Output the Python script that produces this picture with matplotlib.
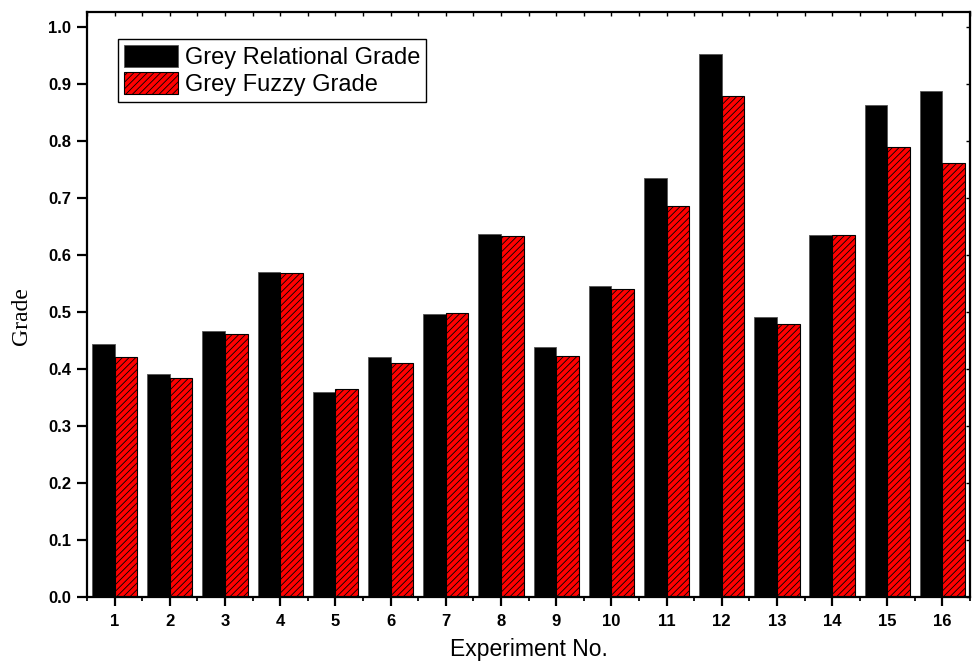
import numpy as np
import matplotlib
matplotlib.use('Agg')
import matplotlib.pyplot as plt
from matplotlib.ticker import MultipleLocator

# Grey relational grade vs grey fuzzy grade for each run
experiments = np.arange(1, 17)
relational_grade = [0.443, 0.391, 0.467, 0.570, 0.360, 0.421, 0.496, 0.637,
                    0.439, 0.546, 0.734, 0.952, 0.491, 0.635, 0.863, 0.888]
fuzzy_grade = [0.421, 0.384, 0.462, 0.568, 0.364, 0.410, 0.498, 0.634,
               0.422, 0.540, 0.685, 0.878, 0.479, 0.635, 0.789, 0.761]

plt.rcParams['font.family'] = 'Liberation Sans'
plt.rcParams['hatch.linewidth'] = 0.6

fig = plt.figure(figsize=(9.73, 6.66), dpi=100)
ax = fig.add_axes([0.0894, 0.1036, 0.9076, 0.8784])

w = 0.41
ax.bar(experiments - w / 2, relational_grade, w, color='black', edgecolor='#555555',
       linewidth=0.6, label='Grey Relational Grade')
ax.bar(experiments + w / 2, fuzzy_grade, w, color='red', edgecolor='black',
       linewidth=0.8, hatch='/////', label='Grey Fuzzy Grade')

ax.set_xlim(0.5, 16.5)
ax.set_ylim(0, 1.026)
ax.set_xticks(experiments)
ax.xaxis.set_minor_locator(MultipleLocator(0.5))
ax.yaxis.set_major_locator(MultipleLocator(0.1))
ax.yaxis.set_major_formatter(plt.FormatStrFormatter('%.1f'))

for s in ax.spines.values():
    s.set_linewidth(1.6)
ax.tick_params(which='major', direction='out', length=7, width=1.6, labelsize=12)
ax.tick_params(axis='x', which='major', length=6.5, pad=6)
ax.tick_params(axis='y', which='major', pad=4.5)
ax.tick_params(which='minor', direction='out', length=3, width=1.3)
for lab in ax.get_xticklabels() + ax.get_yticklabels():
    lab.set_fontweight('bold')

# inward ticks along the top and right frame
top = ax.secondary_xaxis('top')
top.set_xticks(experiments)
top.xaxis.set_minor_locator(MultipleLocator(0.5))
top.tick_params(which='both', direction='in', length=3, width=1.0, labeltop=False)
top.spines['top'].set_visible(False)
right = ax.secondary_yaxis('right')
right.yaxis.set_major_locator(MultipleLocator(0.1))
right.tick_params(which='both', direction='in', length=3, width=1.0, labelright=False)
right.spines['right'].set_visible(False)

ax.set_xlabel('Experiment No.', fontsize=16.5, labelpad=6)
ax.set_ylabel('Grade', fontsize=17, family='Liberation Serif')
ax.yaxis.set_label_coords(-0.062, 0.48)

leg = ax.legend(loc='upper left', bbox_to_anchor=(0.035, 0.954), fontsize=17,
                fancybox=False, framealpha=1, edgecolor='black',
                handlelength=2.29, handleheight=1.06, handletextpad=0.3,
                borderpad=0.25, labelspacing=0.12, borderaxespad=0)
leg.get_frame().set_linewidth(1.0)

fig.savefig('out.png', dpi=100)
